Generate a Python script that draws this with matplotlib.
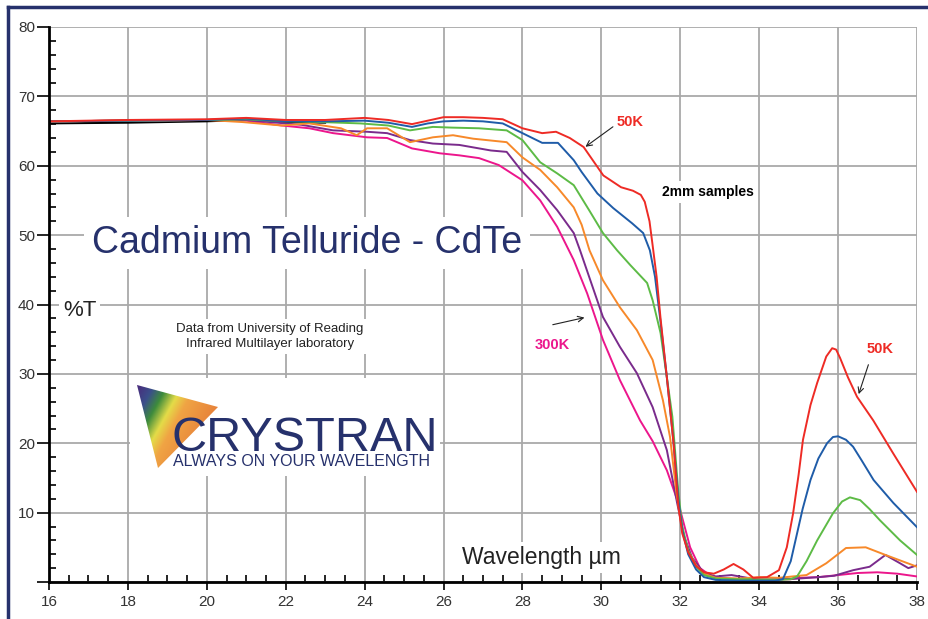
import numpy as np
import matplotlib.pyplot as plt
import matplotlib.patches as ptch
from matplotlib.lines import Line2D
from matplotlib.colors import LinearSegmentedColormap

plt.rcParams['font.family'] = ['Liberation Sans', 'DejaVu Sans']

## Transmission data (%T vs wavelength in um)

# 50K
wl_50 = [16, 18, 20, 21, 22, 23, 24, 24.6, 25.2, 25.6, 26, 26.5, 27, 27.5, 28, 28.5, 28.85,
         29.2, 29.55, 30.05, 30.5, 30.8, 31.0, 31.1, 31.22, 31.3, 31.4, 31.5, 31.66, 31.83,
         31.95, 32.05, 32.2, 32.4, 32.6, 32.85, 33.1, 33.35, 33.6, 33.85, 34.2, 34.5, 34.7,
         34.86, 35.0, 35.11, 35.3, 35.47, 35.7, 35.85, 35.95, 36.05, 36.25, 36.48, 36.89,
         37.39, 38.0]
t_50 = [66.4, 66.6, 66.7, 66.9, 66.6, 66.6, 66.9, 66.6, 66.0, 66.5, 67.0, 67.0, 66.9, 66.7,
        65.4, 64.7, 64.9, 64.0, 62.7, 58.6, 56.9, 56.4, 55.8, 54.8, 52.0, 48.5, 44.0, 38.0,
        29.5, 20.0, 11.0, 7.0, 4.3, 2.3, 1.4, 1.2, 1.8, 2.6, 1.8, 0.6, 0.7, 1.7, 5.0, 9.9,
        15.5, 20.5, 25.5, 28.7, 32.5, 33.7, 33.5, 32.3, 29.5, 26.7, 23.3, 18.6, 13.0]

# second curve (blue)
wl_b = [16, 18, 20, 21, 22, 23, 24, 24.6, 25.2, 25.6, 26, 26.5, 27, 27.5, 28, 28.5, 28.9,
        29.3, 29.5, 29.9, 30.3, 30.78, 31.06, 31.23, 31.36, 31.5, 31.66, 31.83, 31.95, 32.05,
        32.2, 32.4, 32.6, 32.9, 33.5, 34.0, 34.4, 34.6, 34.8, 34.96, 35.1, 35.3, 35.5, 35.72,
        35.87, 36.0, 36.2, 36.38, 36.6, 36.9, 37.4, 38.0]
t_b = [66.4, 66.5, 66.6, 66.8, 66.4, 66.4, 66.5, 66.2, 65.6, 66.1, 66.4, 66.5, 66.4, 66.1,
       64.7, 63.3, 63.3, 60.8, 59.1, 56.0, 53.9, 51.7, 50.3, 47.8, 44.0, 37.5, 29.5, 20.0,
       12.0, 7.5, 4.0, 1.8, 0.7, 0.3, 0.2, 0.2, 0.2, 0.4, 3.0, 7.0, 10.5, 14.7, 17.8, 20.0,
       20.9, 21.0, 20.5, 19.5, 17.5, 14.7, 11.4, 7.9]

# third curve (green)
wl_g = [16, 20, 21, 22, 22.9, 23.9, 24.6, 25.15, 25.73, 26.2, 26.9, 27.6, 28.0, 28.45, 28.88,
        29.3, 29.7, 30.04, 30.4, 30.73, 31.16, 31.3, 31.5, 31.66, 31.8, 31.95, 32.05, 32.2,
        32.4, 32.6, 32.9, 33.5, 34.0, 34.5, 34.8, 34.96, 35.2, 35.47, 35.87, 36.1, 36.3,
        36.56, 36.8, 37.06, 37.57, 38.0]
t_g = [66.4, 66.6, 66.7, 66.4, 66.3, 66.1, 65.8, 65.1, 65.6, 65.5, 65.4, 65.1, 63.7, 60.5,
       58.9, 57.2, 53.5, 50.3, 47.8, 45.7, 43.1, 40.6, 35.9, 29.5, 23.8, 13.0, 8.0, 4.5,
       2.2, 1.0, 0.5, 0.4, 0.4, 0.3, 0.4, 0.8, 3.0, 6.0, 9.9, 11.6, 12.2, 11.8, 10.5, 8.9,
       6.0, 3.9]

# fourth curve (orange)
wl_o = [16, 20, 20.9, 21.9, 22.6, 23.4, 23.8, 24.06, 24.57, 25.15, 25.73, 26.24, 26.75,
        27.6, 28.0, 28.45, 28.88, 29.3, 29.5, 29.7, 30.04, 30.47, 30.9, 31.3, 31.56, 31.74,
        31.9, 32.05, 32.2, 32.4, 32.6, 32.9, 33.5, 34.0, 34.5, 35.2, 35.7, 36.2, 36.7, 37.2,
        38.0]
t_o = [66.4, 66.6, 66.3, 65.8, 66.1, 65.4, 64.4, 65.4, 65.4, 63.4, 64.1, 64.4, 63.9, 63.4,
       61.2, 59.4, 56.9, 54.0, 51.5, 47.8, 43.5, 39.6, 36.3, 32.0, 26.2, 20.9, 13.0, 7.5,
       4.5, 2.4, 1.2, 0.6, 0.5, 0.7, 0.6, 1.0, 2.7, 4.9, 5.0, 3.9, 2.2]

# fifth curve (purple)
wl_p = [16, 20, 21, 22.4, 23.2, 24.06, 24.57, 25.15, 25.73, 26.4, 27.2, 27.6, 28.0, 28.45,
        28.88, 29.3, 29.46, 30.04, 30.47, 30.9, 31.3, 31.66, 31.92, 32.1, 32.3, 32.6, 32.9,
        33.3, 33.7, 34.0, 34.5, 35.0, 35.5, 35.9, 36.38, 36.8, 37.2, 37.57, 37.78, 38.0]
t_p = [66.4, 66.6, 66.6, 65.9, 65.1, 64.9, 64.7, 63.7, 63.2, 63.0, 62.2, 62.0, 59.1, 56.5,
       53.6, 50.3, 47.8, 38.2, 33.9, 30.1, 25.2, 19.0, 11.4, 6.5, 3.5, 1.3, 0.8, 1.0, 0.6,
       0.3, 0.4, 0.5, 0.7, 0.9, 1.7, 2.2, 3.9, 2.7, 2.0, 2.4]

# 300K
wl_300 = [16, 20, 21, 21.9, 22.6, 23.2, 24.06, 24.57, 25.2, 25.9, 26.4, 26.9, 27.4, 28.0,
          28.45, 28.88, 29.3, 29.64, 30.04, 30.47, 30.98, 31.3, 31.66, 31.95, 32.25, 32.5,
          32.8, 33.2, 34.0, 34.8, 35.0, 35.5, 36.0, 36.5, 37.0, 37.5, 38.0]
t_300 = [66.4, 66.6, 66.5, 65.8, 65.4, 64.7, 64.1, 64.0, 62.5, 61.8, 61.5, 61.1, 60.1, 57.9,
         55.0, 51.2, 46.4, 41.6, 34.9, 29.1, 23.3, 20.3, 16.1, 11.4, 5.0, 2.0, 0.8, 0.5, 0.3,
         0.4, 0.6, 0.7, 1.0, 1.3, 1.4, 1.2, 0.8]

# reference trace at short wavelengths (black)
wl_k = [16, 18, 20, 21, 22, 23]
t_k = [66.1, 66.2, 66.4, 66.6, 66.3, 66.2]

series = [(wl_k, t_k, 'black'),
          (wl_300, t_300, '#ec168c'),
          (wl_p, t_p, '#7a2b8c'),
          (wl_o, t_o, '#f7892a'),
          (wl_g, t_g, '#5dbb46'),
          (wl_b, t_b, '#1f5ca8'),
          (wl_50, t_50, '#ee2b25')]

navy = '#26316c'

# PLOTTING
fig = plt.figure(figsize=(9.29, 6.19), dpi=100)
ax = fig.add_axes([49/929, 1-582/619, 868/929, 555/619])

for wl, t, c in series:
    ax.plot(wl, t, color=c, linewidth=1.4, zorder=4)

ax.set_xlim(16, 38)
ax.set_ylim(0, 80)
ax.set_xticks(np.arange(16, 39, 2))
ax.set_yticks(np.arange(0, 81, 10))
ax.set_yticklabels([''] + [str(v) for v in range(10, 81, 10)])
ax.set_xticks(np.arange(16, 38.01, 0.5), minor=True)
ax.set_yticks(np.arange(0, 80.01, 2), minor=True)

ax.tick_params(which='major', direction='out', width=1.2, labelsize=11, labelcolor='#333333')
ax.tick_params(axis='y', which='major', length=9, pad=1)
ax.tick_params(axis='x', which='major', length=6, pad=3)
ax.tick_params(which='minor', direction='in', length=5, width=1.2)

for s in ['top', 'right']:
    ax.spines[s].set_visible(False)
for s in ['left', 'bottom']:
    ax.spines[s].set_linewidth(2)
    ax.spines[s].set_zorder(5)

ax.grid(which='major', color='#a9a9a9', linewidth=1.3)
ax.set_axisbelow(True)

# texts
white = dict(facecolor='white', edgecolor='none', pad=3)
ax.text(22.54, 47.4, 'Cadmium Telluride - CdTe', fontsize=27, color=navy,
        ha='center', va='baseline', bbox=dict(facecolor='white', edgecolor='none', pad=6))
ax.text(16.35, 38.3, '%T', fontsize=16, color='#222222', ha='left', va='baseline', bbox=white)
ax.text(21.6, 35.4, 'Data from University of Reading\nInfrared Multilayer laboratory',
        fontsize=9.5, color='#222222', ha='center', va='center', linespacing=1.3, bbox=white)
ax.text(32.7, 56.2, '2mm samples', fontsize=10, fontweight='bold', ha='center', va='center',
        bbox=white)
ax.text(26.47, 2.6, 'Wavelength µm', fontsize=16.5, color='#222222', ha='left',
        va='baseline', bbox=white, zorder=3)

ax.text(30.73, 66.3, '50K', fontsize=10.5, fontweight='bold', color='#ee2b25',
        ha='center', va='center')
ax.text(28.75, 34.15, '300K', fontsize=10.5, fontweight='bold', color='#ec168c',
        ha='center', va='center')
ax.text(37.06, 33.6, '50K', fontsize=10.5, fontweight='bold', color='#ee2b25',
        ha='center', va='center')

arr = dict(arrowstyle='->', color='#222222', lw=0.8)
ax.annotate('', xy=(29.54, 62.5), xytext=(30.35, 65.85), arrowprops=arr, zorder=6)
ax.annotate('', xy=(29.64, 38.2), xytext=(28.7, 37.0), arrowprops=arr, zorder=6)
ax.annotate('', xy=(36.5, 26.7), xytext=(36.79, 31.7), arrowprops=arr, zorder=6)

# logo block (pixel coordinates inside a small axes)
lax = fig.add_axes([130/929, 1-476/619, 310/929, 98/619])
lax.set_xticks([])
lax.set_yticks([])
for s in lax.spines.values():
    s.set_visible(False)

gx, gy = np.meshgrid(np.linspace(130, 230, 200), np.linspace(378, 476, 200))
grad = ((gx - 137) + 0.55*(gy - 385)) / 95.0
cmap = LinearSegmentedColormap.from_list('prism', [(0.0, '#4a2a7c'), (0.18, '#3a4f8a'),
                                                   (0.32, '#3d8b3c'), (0.48, '#e4dc48'),
                                                   (0.62, '#f0a444'), (1.0, '#e7813a')])
img = lax.imshow(grad, extent=(130, 230, 476, 378), cmap=cmap, vmin=0, vmax=1,
                 aspect='auto', interpolation='bilinear')
tri = ptch.Polygon([(137, 385), (218, 407), (158, 468)], closed=True,
                   transform=lax.transData, facecolor='none', edgecolor='none')
lax.add_patch(tri)
img.set_clip_path(tri)
lax.set_xlim(130, 440)
lax.set_ylim(476, 378)

fig.text(172/929, 1-451/619, 'CRYSTRAN', fontsize=35, color=navy, ha='left', va='baseline')
fig.text(173/929, 1-466/619, 'ALWAYS ON YOUR WAVELENGTH', fontsize=11.5, color=navy,
         ha='left', va='baseline')

# frame around the plot
fig.add_artist(Line2D([8/929, 8/929], [0, 1-7/619], color=navy, linewidth=2.5))
fig.add_artist(Line2D([8/929, 1], [1-7/619, 1-7/619], color=navy, linewidth=2.5))

plt.savefig('out.png', dpi=100)
